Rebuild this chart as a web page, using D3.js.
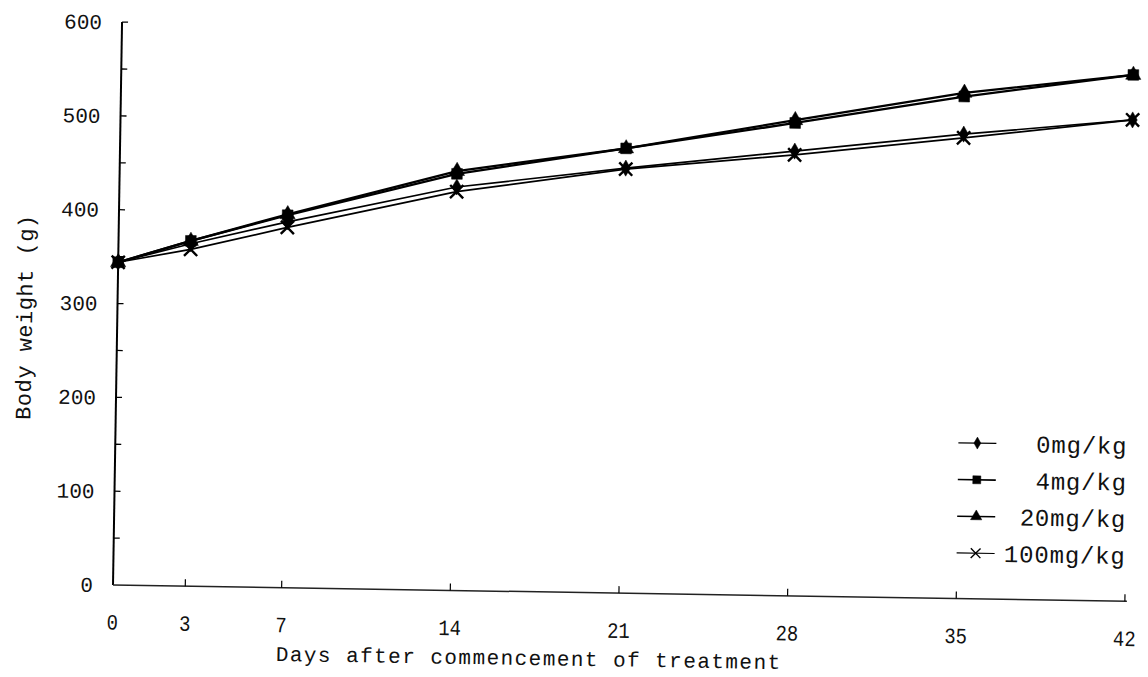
<!DOCTYPE html>
<html>
<head>
<meta charset="utf-8">
<script src="https://cdn.jsdelivr.net/npm/d3@7.9.0/dist/d3.min.js"></script>
<style>
  html, body { margin: 0; padding: 0; background: #fff; }
  svg text { font-family: "Liberation Mono", "Courier New", monospace; fill: #111; }
</style>
</head>
<body>
<svg id="chart" width="1148" height="677"></svg>
<script>
// Days of measurement and body weight (g) per dose group
const days = [0, 3, 7, 14, 21, 28, 35, 42];
const dose0 = [344, 365, 390, 430, 453, 474, 495, 513];
const dose4 = [344, 368, 397, 444, 474, 504, 535, 561];
const dose20 = [344, 368, 398, 447, 474, 507, 539, 561];
const dose100 = [344, 359, 384, 425, 452, 470, 491, 513];

const seriesNames = ['0mg/kg', '4mg/kg', '20mg/kg', '100mg/kg'];
const yTicks = [0, 100, 200, 300, 400, 500, 600];
const yMinorTicks = d3.range(50, 601, 50);

const series = [
  { name: seriesNames[0], values: dose0, symbol: d3.symbolDiamond, size: 75, width: 1.7, filled: true },
  { name: seriesNames[1], values: dose4, symbol: d3.symbolSquare, size: 115, width: 2.3, filled: true },
  { name: seriesNames[2], values: dose20, symbol: d3.symbolTriangle, size: 100, width: 2.3, filled: true },
  { name: seriesNames[3], values: dose100, symbol: d3.symbolX, size: 115, width: 1.7, filled: false },
];

const W = 1012, H = 563;
const svg = d3.select('#chart');

// the scanned figure is tilted a little clockwise
const g = svg.append('g').attr('transform', 'translate(113,585) rotate(0.92)');

const x = d3.scaleLinear().domain([0, 42]).range([0, W]);
const y = d3.scaleLinear().domain([0, 600]).range([0, -H]);

// axes lines
g.append('line').attr('x1', 0).attr('x2', 0).attr('y1', 0).attr('y2', y(600))
  .attr('stroke', '#000').attr('stroke-width', 2);
g.append('line').attr('x1', 0).attr('x2', x(42) + 2).attr('y1', 0).attr('y2', 0)
  .attr('stroke', '#222').attr('stroke-width', 1.5);

// y ticks (inside, every 50)
g.selectAll('.ytick').data(yMinorTicks).enter().append('line')
  .attr('x1', 0).attr('x2', 6)
  .attr('y1', d => y(d)).attr('y2', d => y(d))
  .attr('stroke', '#000').attr('stroke-width', 1.3);

g.selectAll('.ylab').data(yTicks).enter().append('text')
  .attr('x', -20).attr('y', d => y(d))
  .attr('dy', '0.35em')
  .attr('text-anchor', 'end')
  .style('font-size', '21px')
  .text(d => d);

// x ticks (inside, upward)
g.selectAll('.xtick').data(days.filter(d => d > 0)).enter().append('line')
  .attr('x1', d => x(d)).attr('x2', d => x(d))
  .attr('y1', 0).attr('y2', -7)
  .attr('stroke', '#000').attr('stroke-width', 1.2);

// condensed, tall digits like the original
g.selectAll('.xlab').data(days).enter().append('text')
  .attr('transform', d => `translate(${x(d)},37) scale(0.86,1)`)
  .attr('dy', '0.35em')
  .attr('text-anchor', 'middle')
  .style('font-size', '22px')
  .text(d => d);

// axis titles
g.append('text')
  .attr('x', x(17.3)).attr('y', 66)
  .attr('dy', '0.35em')
  .attr('text-anchor', 'middle')
  .style('font-size', '21px')
  .style('letter-spacing', '1.45px')
  .text('Days after commencement of treatment');

g.append('text')
  .attr('transform', `translate(-93,${y(284)}) rotate(-90)`)
  .attr('dy', '0.35em')
  .attr('text-anchor', 'middle')
  .style('font-size', '22px')
  .style('letter-spacing', '0.5px')
  .text('Body weight (g)');

// lines and markers
const line = d3.line().x((d, i) => x(days[i])).y(d => y(d));

series.forEach(s => {
  g.append('path').datum(s.values)
    .attr('d', line)
    .attr('fill', 'none')
    .attr('stroke', '#000')
    .attr('stroke-width', s.width);
});

series.forEach(s => {
  const sym = d3.symbol().type(s.symbol).size(s.size);
  g.selectAll(null).data(s.values).enter().append('path')
    .attr('d', sym)
    .attr('transform', (d, i) => `translate(${x(days[i])},${y(d)})`)
    .attr('fill', s.filled ? '#000' : 'none')
    .attr('stroke', '#000')
    .attr('stroke-width', s.filled ? 0.5 : 2.4);
});

// legend
const legend = g.append('g').attr('transform', `translate(0,${y(166)})`);
series.forEach((s, i) => {
  const row = legend.append('g').attr('transform', `translate(0,${i * 36.7})`);
  row.append('line').attr('x1', 843).attr('x2', 881).attr('y1', 0).attr('y2', 0)
    .attr('stroke', '#000').attr('stroke-width', s.width * 0.7);
  row.append('path')
    .attr('d', d3.symbol().type(s.symbol).size(s.size * 0.55))
    .attr('transform', 'translate(862,0)')
    .attr('fill', s.filled ? '#000' : 'none')
    .attr('stroke', '#000')
    .attr('stroke-width', s.filled ? 0.5 : 1.4);
  row.append('text')
    .attr('x', 1012).attr('y', 0)
    .attr('dy', '0.35em')
    .attr('text-anchor', 'end')
    .style('font-size', '24px')
    .style('letter-spacing', '0.8px')
    .text(s.name);
});
</script>
</body>
</html>
